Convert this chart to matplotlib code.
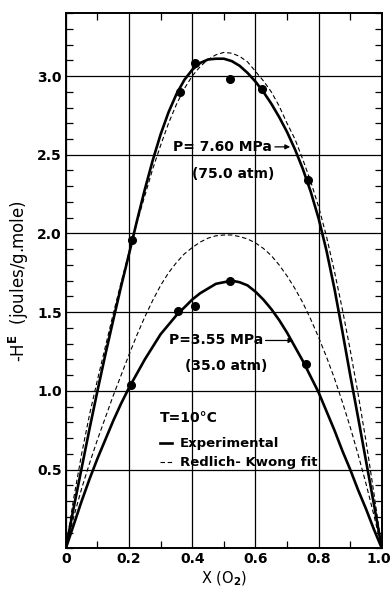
import matplotlib
matplotlib.use("Agg")
import matplotlib.pyplot as plt
import matplotlib.transforms as mtransforms
from matplotlib.ticker import MultipleLocator

plt.rcParams['font.family'] = ['DejaVu Sans']
plt.rcParams['font.weight'] = 'bold'
plt.rcParams['mathtext.default'] = 'bf'

x_curve = [0.0, 0.025, 0.05, 0.075, 0.1, 0.125, 0.15, 0.175, 0.2, 0.225,
           0.25, 0.275, 0.3, 0.325, 0.35, 0.375, 0.4, 0.425, 0.45, 0.475,
           0.5, 0.525, 0.55, 0.575, 0.6, 0.625, 0.65, 0.675, 0.7, 0.725,
           0.75, 0.775, 0.8, 0.825, 0.85, 0.875, 0.9, 0.925, 0.95, 0.975, 1.0]

# P = 7.60 MPa
exp_760 = [0.0, 0.26, 0.51, 0.76, 1.00, 1.23, 1.45, 1.665, 1.87, 2.08,
           2.28, 2.465, 2.63, 2.77, 2.885, 2.975, 3.04, 3.083, 3.105, 3.11,
           3.11, 3.095, 3.065, 3.02, 2.965, 2.90, 2.825, 2.74, 2.645, 2.535,
           2.41, 2.265, 2.095, 1.89, 1.65, 1.38, 1.10, 0.83, 0.555, 0.28, 0.0]
rk_760 = [0.0, 0.32, 0.60, 0.85, 1.07, 1.28, 1.49, 1.69, 1.88, 2.07,
          2.24, 2.41, 2.56, 2.70, 2.82, 2.92, 3.00, 3.06, 3.105, 3.135,
          3.15, 3.145, 3.125, 3.09, 3.03, 2.97, 2.90, 2.81, 2.70, 2.60,
          2.47, 2.33, 2.17, 1.98, 1.76, 1.52, 1.26, 0.98, 0.68, 0.35, 0.0]
pts_x_760 = [0.21, 0.36, 0.41, 0.52, 0.62, 0.765]
pts_y_760 = [1.96, 2.90, 3.08, 2.98, 2.92, 2.34]

# P = 3.55 MPa
exp_355 = [0.0, 0.15, 0.30, 0.44, 0.57, 0.69, 0.81, 0.92, 1.02, 1.11,
           1.20, 1.28, 1.36, 1.42, 1.48, 1.53, 1.58, 1.62, 1.65, 1.68,
           1.69, 1.70, 1.69, 1.67, 1.63, 1.58, 1.52, 1.45, 1.37, 1.28,
           1.19, 1.09, 0.99, 0.87, 0.75, 0.62, 0.50, 0.37, 0.25, 0.12, 0.0]
rk_355 = [0.0, 0.20, 0.38, 0.54, 0.69, 0.83, 0.97, 1.10, 1.23, 1.355,
          1.47, 1.575, 1.67, 1.75, 1.815, 1.87, 1.91, 1.945, 1.97, 1.985,
          1.99, 1.99, 1.98, 1.965, 1.94, 1.905, 1.86, 1.80, 1.73, 1.65,
          1.56, 1.455, 1.34, 1.215, 1.08, 0.93, 0.77, 0.595, 0.41, 0.21, 0.0]
pts_x_355 = [0.205, 0.355, 0.408, 0.52, 0.76]
pts_y_355 = [1.04, 1.51, 1.54, 1.70, 1.17]

x_ticks = [0, 0.2, 0.4, 0.6, 0.8, 1.0]
x_ticklabels = ['0', '0.2', '0.4', '0.6', '0.8', '1.0']
y_ticks = [0.5, 1.0, 1.5, 2.0, 2.5, 3.0]
y_ticklabels = ['0.5', '1.0', '1.5', '2.0', '2.5', '3.0']

fig = plt.figure(figsize=(3.92, 5.94), dpi=100)
ax = fig.add_axes([0.168, 0.077, 0.806, 0.901])

solid, = ax.plot(x_curve, exp_760, color='black', lw=1.9, solid_joinstyle='round')
ax.plot(x_curve, exp_355, color='black', lw=1.9, solid_joinstyle='round')
dashed, = ax.plot(x_curve, rk_760, color='black', lw=0.8, ls=(0, (4, 2.5)))
ax.plot(x_curve, rk_355, color='black', lw=0.8, ls=(0, (4, 2.5)))
ax.plot(pts_x_760, pts_y_760, 'o', color='black', ms=5.5)
ax.plot(pts_x_355, pts_y_355, 'o', color='black', ms=5.5)

ax.set_xlim(0, 1.0)
ax.set_ylim(0, 3.4)
ax.set_xticks(x_ticks)
ax.set_xticklabels(x_ticklabels)
ax.set_yticks(y_ticks)
ax.set_yticklabels(y_ticklabels)
ax.xaxis.set_minor_locator(MultipleLocator(0.1))
ax.yaxis.set_minor_locator(MultipleLocator(0.1))
ax.tick_params(which='both', direction='in', top=True, right=True,
               labelsize=10, pad=3)
ax.tick_params(which='major', length=0)
ax.tick_params(which='minor', length=5, width=0.9)
ax.grid(True, which='major', color='black', lw=0.9)
for s in ax.spines.values():
    s.set_linewidth(1.4)

# keep the last x label inside the picture
last = ax.get_xticklabels()[-1]
last.set_transform(last.get_transform() +
                   mtransforms.ScaledTranslation(-3 / 100, 0, fig.dpi_scale_trans))

ax.set_xlabel('X (O$_2$)', fontsize=10.5, labelpad=2)
ax.set_ylabel('-H$^E$  (joules/g.mole)', fontsize=12, labelpad=4)

arrow = dict(arrowstyle='-|>', color='black', lw=0.9, mutation_scale=7,
             shrinkA=0, shrinkB=0)
ax.annotate('P= 7.60 MPa', xy=(0.71, 2.55), xytext=(0.34, 2.55),
            fontsize=10, va='center', ha='left', arrowprops=arrow)
ax.text(0.40, 2.38, '(75.0 atm)', fontsize=10, va='center', ha='left')
ax.annotate('P=3.55 MPa', xy=(0.72, 1.32), xytext=(0.325, 1.32),
            fontsize=10, va='center', ha='left', arrowprops=arrow)
ax.text(0.378, 1.16, '(35.0 atm)', fontsize=10, va='center', ha='left')

ax.text(0.297, 0.83, 'T=10°C', fontsize=10, va='center', ha='left')
leg = ax.legend([solid, dashed], ['Experimental', 'Redlich- Kwong fit'],
                loc='upper left', bbox_to_anchor=(0.298, 0.207),
                frameon=False, fontsize=9.5,
                handlelength=0.9, handletextpad=0.6, labelspacing=0.45,
                borderpad=0, borderaxespad=0)

fig.savefig('out.png', dpi=100)
